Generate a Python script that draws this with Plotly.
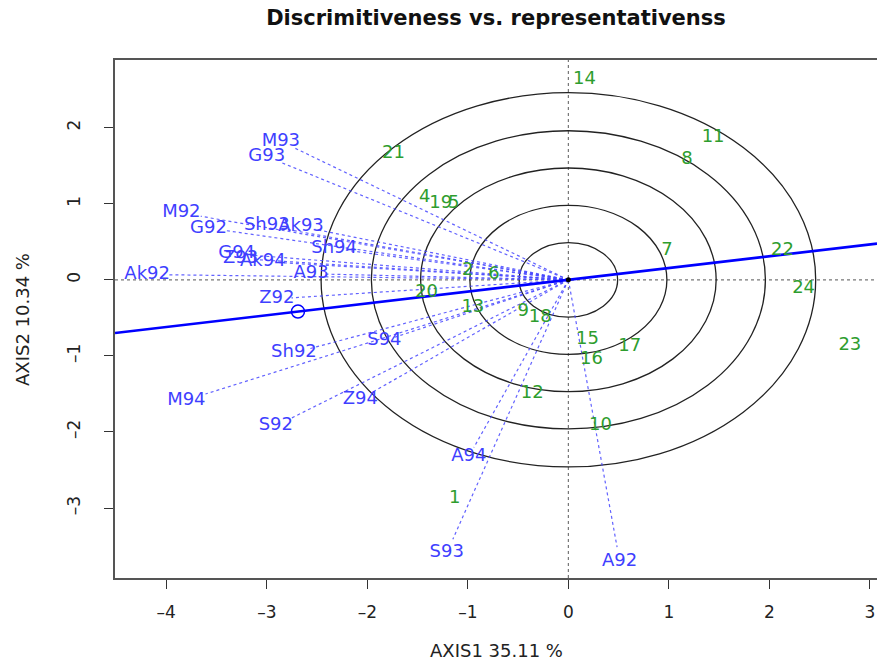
import plotly.graph_objects as go
import numpy as np

# Environment vectors (blue labels)
env_names = ["M93", "G93", "M92", "G92", "Sh93", "Ak93", "Sh94", "G94", "Z93", "Ak94",
             "Ak92", "A93", "Z92", "Sh92", "S94", "Z94", "S92", "M94", "A94", "S93", "A92"]
env_x = [-2.86, -3.00, -3.85, -3.58, -3.00, -2.66, -2.33, -3.30, -3.26, -3.04,
         -4.19, -2.56, -2.90, -2.73, -1.83, -2.07, -2.91, -3.80, -0.99, -1.21, 0.51]
env_y = [1.82, 1.62, 0.88, 0.68, 0.71, 0.70, 0.41, 0.34, 0.28, 0.24,
         0.07, 0.08, -0.25, -0.96, -0.80, -1.57, -1.92, -1.58, -2.32, -3.59, -3.70]

# Genotypes (green labels)
gen_names = ["1", "2", "4", "5", "6", "7", "8", "9", "10", "11", "12", "13", "14",
             "15", "16", "17", "18", "19", "20", "21", "22", "23", "24"]
gen_x = [-1.13, -1.00, -1.43, -1.14, -0.74, 0.98, 1.18, -0.45, 0.32, 1.44, -0.36, -0.95, 0.16,
         0.19, 0.23, 0.61, -0.28, -1.27, -1.41, -1.74, 2.13, 2.80, 2.34]
gen_y = [-2.87, 0.12, 1.08, 1.00, 0.07, 0.38, 1.58, -0.42, -1.91, 1.87, -1.50, -0.36, 2.64,
         -0.79, -1.05, -0.87, -0.49, 1.01, -0.17, 1.66, 0.38, -0.86, -0.11]

# Average environment coordinate and concentric circle radii
avg_env = (-2.69, -0.417)
radii = [0.49, 0.98, 1.47, 1.96, 2.46]

x_range = [-4.51, 3.07]
y_range = [-3.92, 2.89]
x_ticks = [-4, -3, -2, -1, 0, 1, 2, 3]
y_ticks = [-3, -2, -1, 0, 1, 2]

FONT = "DejaVu Sans"
ENV_COL = "#3f3fff"
GEN_COL = "#2e9d2e"
LINE_SHRINK = 0.95


def tick_text(vals):
    return ["\u2013" + str(-v) if v < 0 else str(v) for v in vals]


fig = go.Figure()

# concentric circles
for r in radii:
    fig.add_shape(type="circle", xref="x", yref="y", x0=-r, y0=-r, x1=r, y1=r,
                  line=dict(color="#222222", width=1.3), layer="below")

# reference dotted axes
fig.add_shape(type="line", xref="x", yref="paper", x0=0, x1=0, y0=0, y1=1,
              line=dict(color="#777777", width=1.2, dash="dot"), layer="below")
fig.add_shape(type="line", xref="paper", yref="y", x0=0, x1=1, y0=0, y1=0,
              line=dict(color="#777777", width=1.2, dash="dot"), layer="below")

# environment vectors
for ex, ey in zip(env_x, env_y):
    fig.add_trace(go.Scatter(x=[0, ex * LINE_SHRINK], y=[0, ey * LINE_SHRINK], mode="lines",
                             line=dict(color="rgba(70,70,255,0.85)", width=1.2, dash="dot"),
                             showlegend=False, hoverinfo="skip"))

# average environment axis
slope = avg_env[1] / avg_env[0]
fig.add_trace(go.Scatter(x=[x_range[0], x_range[1]], y=[slope * x_range[0], slope * x_range[1]],
                         mode="lines", line=dict(color="#0000ff", width=2.6),
                         showlegend=False, hoverinfo="skip"))
fig.add_trace(go.Scatter(x=[avg_env[0]], y=[avg_env[1]], mode="markers",
                         marker=dict(symbol="circle-open", size=13, color="#0000ff",
                                     line=dict(width=1.5, color="#0000ff")),
                         showlegend=False, hoverinfo="skip"))
fig.add_trace(go.Scatter(x=[0], y=[0], mode="markers",
                         marker=dict(size=5, color="black"), showlegend=False, hoverinfo="skip"))

# labels
fig.add_trace(go.Scatter(x=gen_x, y=gen_y, mode="text", text=gen_names,
                         textfont=dict(family=FONT, size=18, color=GEN_COL),
                         showlegend=False, hoverinfo="skip"))
fig.add_trace(go.Scatter(x=env_x, y=env_y, mode="text", text=env_names,
                         textfont=dict(family=FONT, size=18, color=ENV_COL),
                         showlegend=False, hoverinfo="skip"))

fig.update_layout(
    width=877, height=661,
    margin=dict(l=115, r=0, t=60, b=83),
    plot_bgcolor="white", paper_bgcolor="white",
    font=dict(family=FONT, color="#222222"),
    title=dict(text="<b>Discrimitiveness vs. representativenss</b>",
               x=0.5, xref="paper", y=1 - 18 / 661, yref="container",
               xanchor="center", yanchor="middle",
               font=dict(family=FONT, size=21, color="#111111")),
    xaxis=dict(range=x_range, tickvals=x_ticks, ticktext=tick_text(x_ticks),
               showgrid=False, zeroline=False, showline=True, mirror=True,
               linecolor="#555555", linewidth=2, ticks="outside", ticklen=9,
               tickcolor="#333333", tickwidth=1.3, tickfont=dict(size=17, color="#222222"),
               ticklabelstandoff=9),
    yaxis=dict(range=y_range, tickvals=y_ticks, ticktext=tick_text(y_ticks),
               showgrid=False, zeroline=False, showline=True, mirror=False,
               linecolor="#555555", linewidth=2, ticks="outside", ticklen=9,
               tickcolor="#333333", tickwidth=1.3, tickfont=dict(size=17, color="#222222"),
               tickangle=-90, ticklabelstandoff=17),
    annotations=[
        dict(text="AXIS1 35.11 %", xref="paper", yref="paper", x=0.5, y=-(650 - 578) / 518,
             xanchor="center", yanchor="middle", showarrow=False,
             font=dict(size=18, color="#222222")),
        dict(text="AXIS2 10.34 %", xref="paper", yref="paper", x=-(115 - 22) / 762, y=(578 - 320) / 518,
             xanchor="center", yanchor="middle", showarrow=False, textangle=-90,
             font=dict(size=18, color="#222222")),
    ],
)

fig.write_html("out.html")
